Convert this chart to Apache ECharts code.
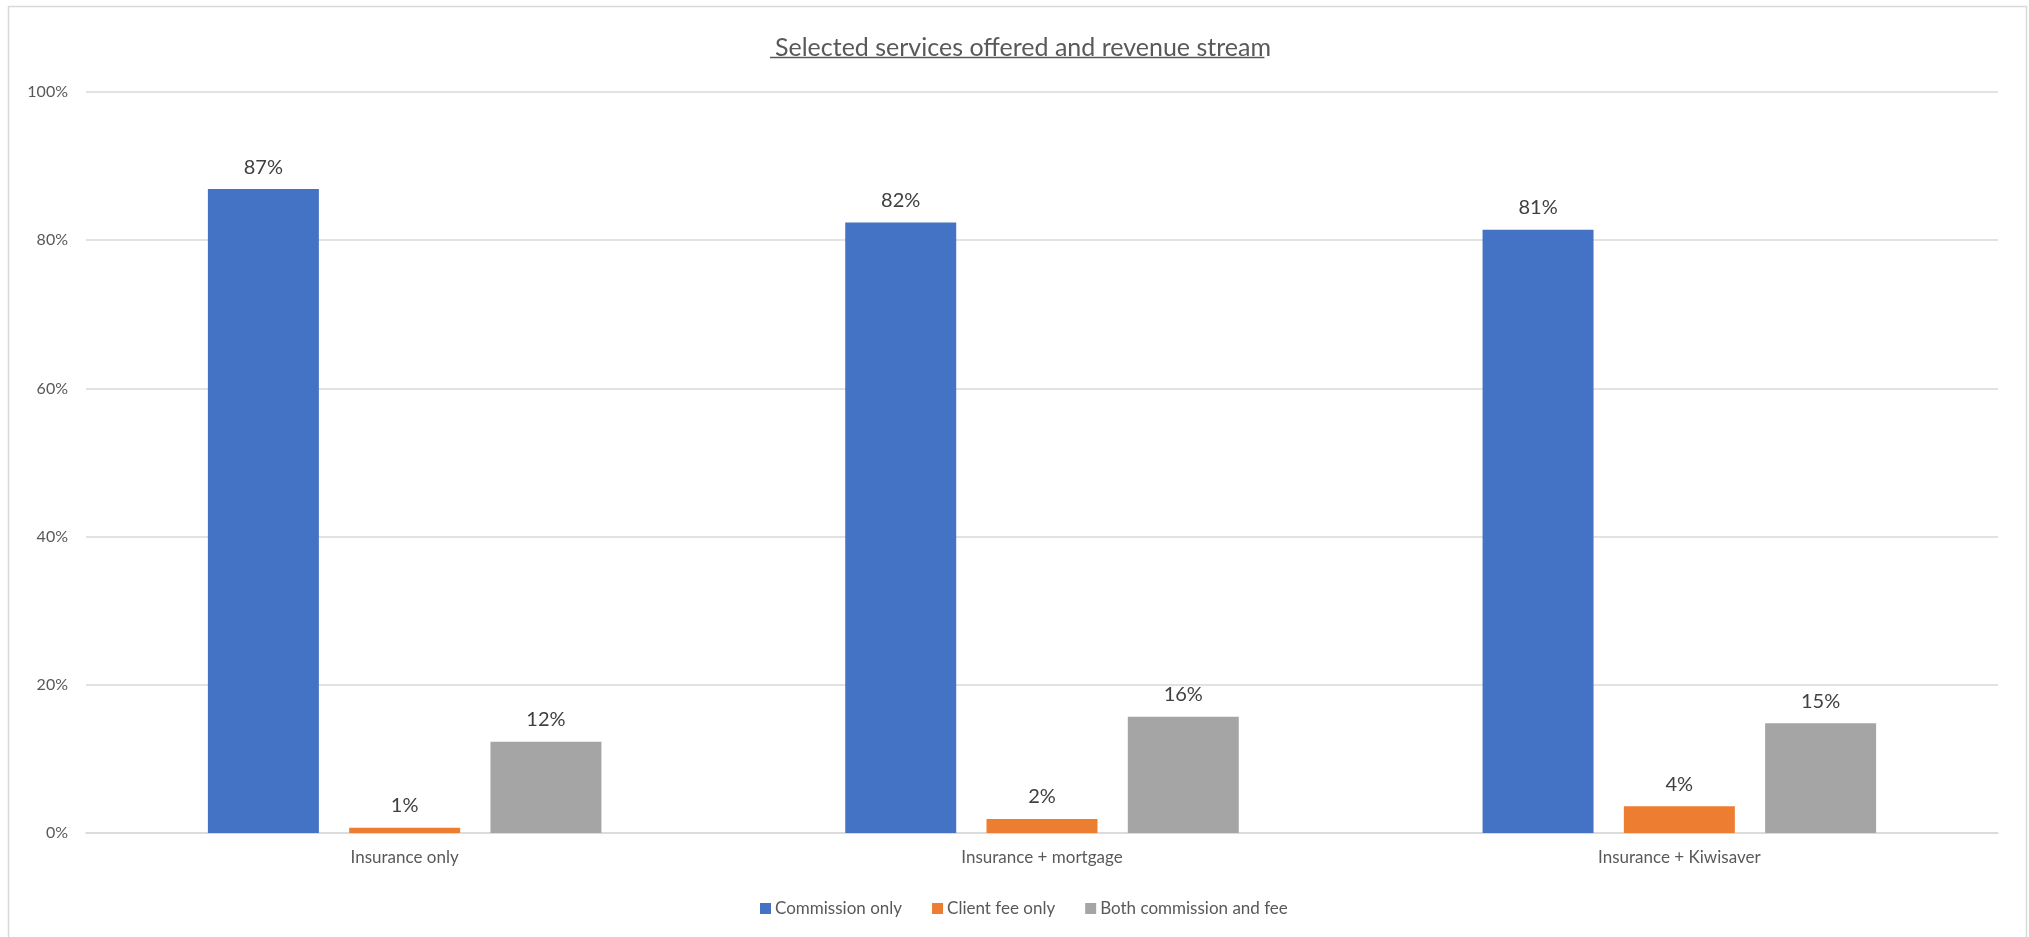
<!DOCTYPE html>
<html>
<head>
<meta charset="utf-8">
<script src="https://cdn.jsdelivr.net/npm/echarts@6/dist/echarts.min.js"></script>
<style>
  html, body { margin: 0; padding: 0; background: #ffffff; }
  #chart { width: 2029px; height: 937px; }
</style>
</head>
<body>
<div id="chart"></div>
<script>
// Chart data (percent of respondents)
const titleText = 'Selected services offered and revenue stream';
const categories = ['Insurance only', 'Insurance + mortgage', 'Insurance + Kiwisaver'];
const seriesNames = ['Commission only', 'Client fee only', 'Both commission and fee'];
const commissionOnly = [86.9, 82.4, 81.4];
const clientFeeOnly = [0.7, 1.9, 3.6];
const bothCommissionAndFee = [12.3, 15.7, 14.8];
const yTicks = [0, 20, 40, 60, 80, 100];

const FONT = 'Lato, "Open Sans", sans-serif';
const colors = ['#4472C4', '#ED7D31', '#A5A5A5'];
const seriesData = [commissionOnly, clientFeeOnly, bothCommissionAndFee];
const TITLE_SIZE = 25;
const titleCenterX = 1018;

function render() {
  const chart = echarts.init(document.getElementById('chart'), null, { renderer: 'canvas' });

  // Ink extent of the centred title text, used for the underline beneath it
  const ctx = document.createElement('canvas').getContext('2d');
  ctx.font = TITLE_SIZE + 'px Lato';
  ctx.textAlign = 'center';
  const m = ctx.measureText(titleText);
  const hasBox = typeof m.actualBoundingBoxLeft === 'number';
  const ulLeft = titleCenterX - (hasBox ? m.actualBoundingBoxLeft : m.width / 2);
  const ulRight = titleCenterX + (hasBox ? m.actualBoundingBoxRight : m.width / 2);

  const option = {
    backgroundColor: '#ffffff',
    animation: false,
    color: colors,
    title: {
      text: titleText,
      left: titleCenterX,
      top: 30,
      textAlign: 'center',
      textStyle: { fontFamily: FONT, fontSize: TITLE_SIZE, fontWeight: 'normal', color: '#595959' }
    },
    legend: {
      left: 755,
      top: 895,
      itemWidth: 11,
      itemHeight: 11,
      itemGap: 30,
      icon: 'rect',
      textStyle: { fontFamily: FONT, fontSize: 17, color: '#595959', padding: [0, 0, 0, -1] },
      data: seriesNames
    },
    grid: { left: 86, right: 31, top: 92, bottom: 104, containLabel: false },
    xAxis: {
      type: 'category',
      data: categories,
      axisLine: { show: true, lineStyle: { color: '#d9d9d9', width: 1.5 } },
      axisTick: { show: false },
      axisLabel: { fontFamily: FONT, fontSize: 17, color: '#595959', margin: 16 }
    },
    yAxis: {
      type: 'value',
      min: yTicks[0],
      max: yTicks[yTicks.length - 1],
      interval: yTicks[1] - yTicks[0],
      axisLine: { show: false },
      axisTick: { show: false },
      splitLine: { lineStyle: { color: '#d9d9d9', width: 1.5 } },
      axisLabel: { fontFamily: FONT, fontSize: 16, color: '#595959', margin: 18, formatter: v => v + '%' }
    },
    series: seriesNames.map((name, i) => ({
      name: name,
      type: 'bar',
      data: seriesData[i],
      barGap: '27.3%',
      barCategoryGap: '38.25%',
      itemStyle: { color: colors[i] },
      label: {
        show: true,
        position: 'top',
        distance: 12,
        fontFamily: FONT,
        fontSize: 20,
        color: '#404040',
        formatter: p => Math.round(p.value) + '%'
      }
    })),
    graphic: [
      {
        type: 'rect',
        silent: true,
        shape: { x: 8.5, y: 6.5, width: 2018, height: 940 },
        style: { fill: 'none', stroke: '#d9d9d9', lineWidth: 1.5 }
      },
      {
        type: 'line',
        silent: true,
        shape: { x1: ulLeft, y1: 57.5, x2: ulRight, y2: 57.5 },
        style: { stroke: '#595959', lineWidth: 1.5 }
      }
    ]
  };

  chart.setOption(option);
}

if (document.fonts && document.fonts.load) {
  document.fonts.load(TITLE_SIZE + 'px Lato').then(render, render);
} else {
  render();
}
</script>
</body>
</html>
